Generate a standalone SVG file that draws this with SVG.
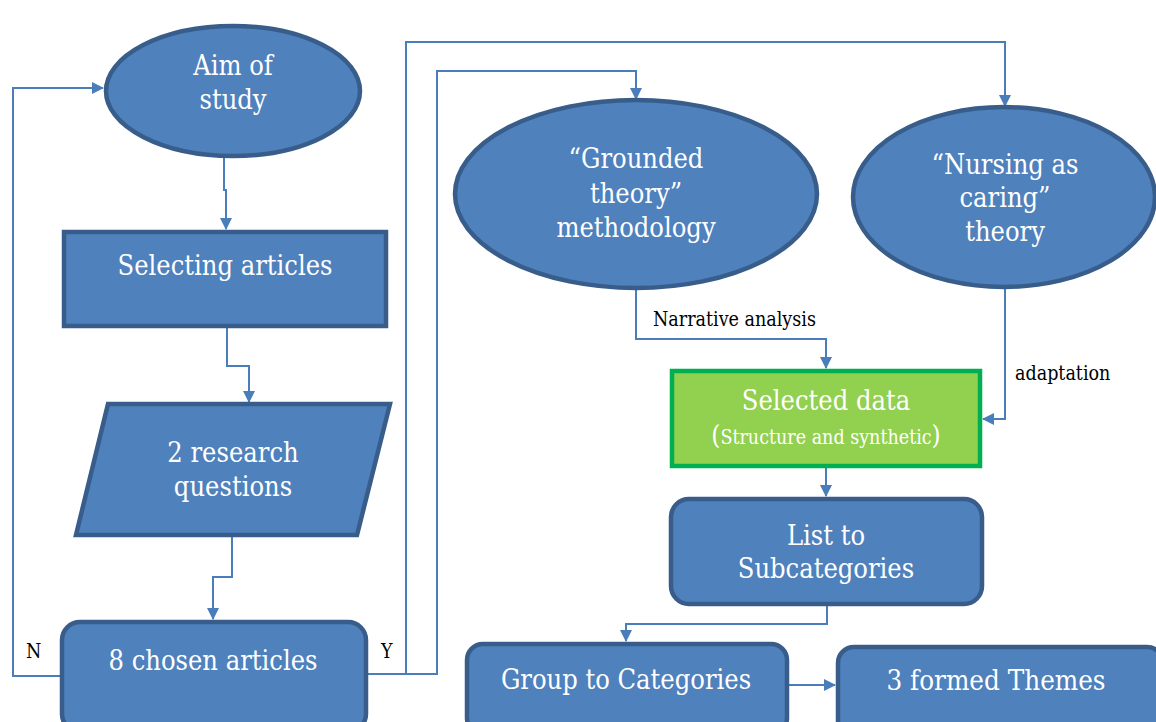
<svg xmlns="http://www.w3.org/2000/svg" width="1156" height="722" viewBox="0 0 1156 722">
  <style>
    .node { fill: #4f81bd; stroke: #385d8a; stroke-width: 4.5; }
    .green { fill: #92d050; stroke: #00b050; stroke-width: 4.5; }
    .lbl { font-family: "DejaVu Serif Condensed", "Liberation Serif", serif; fill: #ffffff; font-size: 27px; text-anchor: middle; }
    .cond { font-family: "DejaVu Serif Condensed", "Liberation Serif", serif; fill: #ffffff; text-anchor: middle; }
    .note { font-family: "DejaVu Serif Condensed", "Liberation Serif", serif; fill: #000000; font-size: 19.5px; }
    .wire { fill: none; stroke: #4a7ebb; stroke-width: 2; }
  </style>
  <defs>
    <marker id="arrow" viewBox="0 0 12 12" refX="11" refY="6" markerWidth="12" markerHeight="12" markerUnits="userSpaceOnUse" orient="auto">
      <path d="M0,0 L12,6 L0,12 Z" fill="#4a7ebb"/>
    </marker>
  </defs>
  <rect width="1156" height="722" fill="#ffffff"/>

  <g id="connectors">
    <path class="wire" d="M224,157 V190 H226 V229" marker-end="url(#arrow)"/>
    <path class="wire" d="M227,326 V366 H249 V402" marker-end="url(#arrow)"/>
    <path class="wire" d="M232,535 V577 H213 V619" marker-end="url(#arrow)"/>
    <path class="wire" d="M61,676 H13 V88 H103" marker-end="url(#arrow)"/>
    <path class="wire" d="M367,674 H437 V71 H636 V99" marker-end="url(#arrow)"/>
    <path class="wire" d="M406,674 V42 H1005 V106" marker-end="url(#arrow)"/>
    <path class="wire" d="M636,288 V339 H826 V368" marker-end="url(#arrow)"/>
    <path class="wire" d="M1005,288 V419 H983" marker-end="url(#arrow)"/>
    <path class="wire" d="M826,467 V496" marker-end="url(#arrow)"/>
    <path class="wire" d="M827,605 V624 H626 V641" marker-end="url(#arrow)"/>
    <path class="wire" d="M788,685 H835" marker-end="url(#arrow)"/>
    <text class="note" x="26" y="658">N</text>
    <text class="note" x="381" y="658">Y</text>
    <text class="note" x="653" y="326">Narrative analysis</text>
    <text class="note" x="1015" y="380">adaptation</text>
  </g>

  <g id="aim">
    <ellipse class="node" cx="233" cy="91" rx="127" ry="65"/>
    <text class="lbl" x="233" y="75">Aim of</text>
    <text class="lbl" x="233" y="109">study</text>
  </g>

  <g id="selecting">
    <rect class="node" x="64" y="232" width="322" height="94"/>
    <text class="lbl" x="225" y="275">Selecting articles</text>
  </g>

  <g id="questions">
    <polygon class="node" points="108,404 390,404 357,535 76,535"/>
    <text class="lbl" x="233" y="462">2 research</text>
    <text class="lbl" x="233" y="496">questions</text>
  </g>

  <g id="chosen">
    <rect class="node" x="62" y="622" width="304" height="110" rx="18"/>
    <text class="lbl" x="213" y="670">8 chosen articles</text>
  </g>

  <g id="grounded">
    <ellipse class="node" cx="636" cy="194" rx="181" ry="94"/>
    <text class="lbl" x="636" y="168">“Grounded</text>
    <text class="lbl" x="636" y="203">theory”</text>
    <text class="lbl" x="636" y="237">methodology</text>
  </g>

  <g id="nursing">
    <ellipse class="node" cx="1004" cy="197" rx="151" ry="90"/>
    <text class="lbl" x="1005" y="174">“Nursing as</text>
    <text class="lbl" x="1005" y="207">caring”</text>
    <text class="lbl" x="1005" y="241">theory</text>
  </g>

  <g id="selected">
    <rect class="green" x="672" y="371" width="308" height="95"/>
    <text class="cond" x="826" y="410" font-size="27">Selected data</text>
    <text class="cond" x="826" y="444" font-size="19.5"><tspan font-size="26">(</tspan>Structure and synthetic<tspan font-size="26">)</tspan></text>
  </g>

  <g id="subcategories">
    <rect class="node" x="671" y="499" width="311" height="105" rx="18"/>
    <text class="lbl" x="826" y="545">List to</text>
    <text class="lbl" x="826" y="578">Subcategories</text>
  </g>

  <g id="categories">
    <rect class="node" x="467" y="644" width="320" height="90" rx="16"/>
    <text class="cond" x="626" y="689" font-size="27">Group to Categories</text>
  </g>

  <g id="themes">
    <rect class="node" x="838" y="647" width="325" height="90" rx="16"/>
    <text class="cond" x="996" y="690" font-size="27.5">3 formed Themes</text>
  </g>
</svg>
